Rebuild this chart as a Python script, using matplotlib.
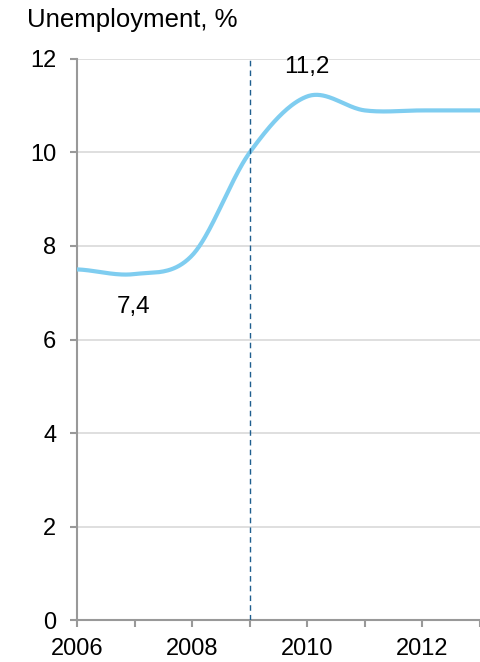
import numpy as np
import matplotlib.pyplot as plt

plt.rcParams['font.family'] = ['Liberation Sans', 'DejaVu Sans']

# yearly unemployment rate, %
years = [2006, 2007, 2008, 2009, 2010, 2011, 2012, 2013]
rate = [7.5, 7.4, 7.8, 10.0, 11.2, 10.9, 10.9, 10.9]
crisis_year = 2009
xticks = [2006, 2008, 2010, 2012]
yticks = [0, 2, 4, 6, 8, 10, 12]


def smooth(x, y, n=40):
    # Catmull-Rom spline through the yearly points (spreadsheet-style smoothed line)
    x = np.asarray(x, float)
    y = np.asarray(y, float)
    xp = np.concatenate([[2 * x[0] - x[1]], x, [2 * x[-1] - x[-2]]])
    yp = np.concatenate([[y[0]], y, [y[-1]]])
    xs, ys = [], []
    for i in range(1, len(xp) - 2):
        t = np.linspace(0, 1, n, endpoint=False)
        m1 = (yp[i + 1] - yp[i - 1]) / 2
        m2 = (yp[i + 2] - yp[i]) / 2
        h00 = 2 * t**3 - 3 * t**2 + 1
        h10 = t**3 - 2 * t**2 + t
        h01 = -2 * t**3 + 3 * t**2
        h11 = t**3 - t**2
        xs.append(xp[i] + t * (xp[i + 1] - xp[i]))
        ys.append(h00 * yp[i] + h10 * m1 + h01 * yp[i + 1] + h11 * m2)
    xs.append([x[-1]])
    ys.append([y[-1]])
    return np.concatenate(xs), np.concatenate(ys)


fig = plt.figure(figsize=(4.81, 6.62), dpi=100)
ax = fig.add_axes([0.160, 0.0634, 0.838, 0.8475])

sx, sy = smooth(years, rate)
ax.plot(sx, sy, color='#7fcdf0', lw=3, solid_capstyle='butt', zorder=3)
ax.axvline(crisis_year, color='#1f5f8f', lw=1, ls=(0, (4, 3)), zorder=4)

ax.annotate('7,4', xy=(years[1], rate[1]), xytext=(-1, -24), textcoords='offset points',
            ha='center', va='center', fontsize=17.5)
ax.annotate('11,2', xy=(years[4], rate[4]), xytext=(0, 21.5), textcoords='offset points',
            ha='center', va='center', fontsize=17.5)

ax.set_xlim(years[0], years[-1])
ax.set_ylim(0, 12)
ax.set_xticks(range(years[0], years[-1] + 1))
ax.set_xticklabels([str(y) if y in xticks else '' for y in range(years[0], years[-1] + 1)])
ax.set_yticks(yticks)
ax.yaxis.grid(True, color='#d9d9d9', lw=1.2)
ax.set_axisbelow(True)

for side in ['top', 'right']:
    ax.spines[side].set_visible(False)
for side in ['left', 'bottom']:
    ax.spines[side].set_color('#999999')
    ax.spines[side].set_linewidth(1.5)
ax.tick_params(axis='both', colors='#999999', width=1.5, length=5, labelsize=17,
               labelcolor='black')
ax.tick_params(axis='y', pad=10)
ax.tick_params(axis='x', pad=8)

fig.text(27 / 481, 1 - 27 / 662, 'Unemployment, %', fontsize=18.5, va='baseline', ha='left')

fig.savefig('out.png', dpi=100)
